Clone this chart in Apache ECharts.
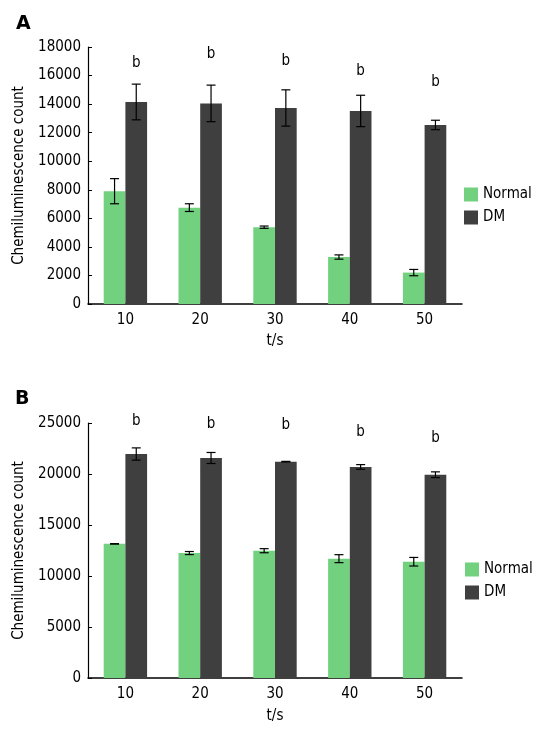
<!DOCTYPE html>
<html>
<head>
<meta charset="utf-8">
<script src="https://cdn.jsdelivr.net/npm/echarts@6/dist/echarts.min.js"></script>
<style>
html,body{margin:0;padding:0;background:#fff;}
#chart{width:541px;height:735px;}
</style>
</head>
<body>
<div id="chart"></div>
<script>
// ---- data ----
const categories = ['10', '20', '30', '40', '50'];
const seriesNames = ['Normal', 'DM'];

// Panel A
const aNormal = [7900, 6750, 5380, 3290, 2200];
const aNormalErr = [880, 270, 80, 150, 220];
const aDM = [14150, 14050, 13730, 13520, 12540];
const aDMErr = [1250, 1280, 1270, 1100, 330];
const aSigY = [16880, 17500, 17020, 16340, 15530];
const aYTicks = [0, 2000, 4000, 6000, 8000, 10000, 12000, 14000, 16000, 18000];

// Panel B
const bNormal = [13150, 12250, 12480, 11700, 11400];
const bNormalErr = [20, 150, 200, 390, 420];
const bDM = [21960, 21570, 21210, 20690, 19930];
const bDMErr = [600, 540, 30, 230, 280];
const bSigY = [25150, 24930, 24830, 24120, 23530];
const bYTicks = [0, 5000, 10000, 15000, 20000, 25000];

const sigText = 'b';

// ---- styles ----
const FONT = '"DejaVu Sans Condensed", "DejaVu Sans", sans-serif';
const GREEN = '#71d17f';
const DARK = '#3f3f3f';
const BAR_FRAC = 0.29;

const chart = echarts.init(document.getElementById('chart'), null, {renderer: 'canvas'});

function errSeries(name, vals, errs, gridIdx, sign) {
  return {
    type: 'custom',
    name: name + '_err',
    xAxisIndex: gridIdx, yAxisIndex: gridIdx,
    silent: true, z: 10,
    data: vals.map((v, i) => [i, v, errs[i]]),
    renderItem: function (params, api) {
      const i = api.value(0), v = api.value(1), e = api.value(2);
      const band = api.size([1, 0])[0];
      const cx = api.coord([i, v])[0] + sign * band * BAR_FRAC / 2;
      const top = api.coord([i, v + e])[1];
      const bot = api.coord([i, v - e])[1];
      const hw = 4.5;
      const st = {stroke: '#000', lineWidth: 1.2};
      return {
        type: 'group',
        children: [
          {type: 'line', shape: {x1: cx, y1: top, x2: cx, y2: bot}, style: st},
          {type: 'line', shape: {x1: cx - hw, y1: top, x2: cx + hw, y2: top}, style: st},
          {type: 'line', shape: {x1: cx - hw, y1: bot, x2: cx + hw, y2: bot}, style: st}
        ]
      };
    }
  };
}

function sigSeries(ys, gridIdx) {
  return {
    type: 'custom',
    name: 'sig' + gridIdx,
    xAxisIndex: gridIdx, yAxisIndex: gridIdx,
    silent: true, z: 10,
    data: ys.map((v, i) => [i, v]),
    renderItem: function (params, api) {
      const i = api.value(0), v = api.value(1);
      const band = api.size([1, 0])[0];
      const p = api.coord([i, v]);
      return {
        type: 'text',
        style: {
          x: p[0] + band * BAR_FRAC / 2, y: p[1],
          text: sigText, font: '15px ' + FONT, fill: '#000',
          align: 'center', verticalAlign: 'middle'
        }
      };
    }
  };
}

function barSeries(name, vals, gridIdx, color) {
  return {
    type: 'bar', name: name,
    xAxisIndex: gridIdx, yAxisIndex: gridIdx,
    data: vals, barWidth: (BAR_FRAC * 100) + '%', barGap: '0%',
    itemStyle: {color: color},
    emphasis: {disabled: true}
  };
}

function xAxisCfg(gridIdx, gap) {
  return {
    type: 'category', gridIndex: gridIdx, data: categories,
    name: 't/s', nameLocation: 'middle', nameGap: gap,
    nameTextStyle: {fontFamily: FONT, fontSize: 15, color: '#000', verticalAlign: 'top'},
    axisLine: {lineStyle: {color: '#000', width: 1.5}},
    axisTick: {show: false},
    axisLabel: {fontFamily: FONT, fontSize: 15, color: '#000', margin: 9}
  };
}

function yAxisCfg(gridIdx, ticks) {
  return {
    type: 'value', gridIndex: gridIdx,
    min: ticks[0], max: ticks[ticks.length - 1],
    interval: ticks[1] - ticks[0],
    name: 'Chemiluminescence count', nameLocation: 'middle', nameGap: 61,
    nameTextStyle: {fontFamily: FONT, fontSize: 15, color: '#000'},
    axisLine: {show: true, lineStyle: {color: '#000', width: 1.2}},
    axisTick: {show: true, inside: true, length: 4, lineStyle: {color: '#000'}},
    splitLine: {show: false},
    axisLabel: {fontFamily: FONT, fontSize: 15, color: '#000', margin: 7,
      formatter: v => String(v)}
  };
}

function legendCfg(left, top) {
  return {
    data: seriesNames.map(n => ({name: n, icon: 'rect'})),
    orient: 'vertical', left: left, top: top,
    itemWidth: 14, itemHeight: 14, itemGap: 8,
    textStyle: {fontFamily: FONT, fontSize: 15, color: '#000'},
    selectedMode: false
  };
}

const option = {
  animation: false,
  backgroundColor: '#fff',
  title: [
    {text: 'A', left: 11, top: 10, textStyle: {fontFamily: '"DejaVu Sans", sans-serif', fontSize: 19, fontWeight: 'bold', color: '#000'}},
    {text: 'B', left: 10, top: 385, textStyle: {fontFamily: '"DejaVu Sans", sans-serif', fontSize: 19, fontWeight: 'bold', color: '#000'}}
  ],
  legend: [legendCfg(459, 182), legendCfg(460, 557)],
  grid: [
    {left: 88, top: 47, width: 374, height: 257},
    {left: 88, top: 423, width: 374, height: 255}
  ],
  xAxis: [xAxisCfg(0, 30), xAxisCfg(1, 31)],
  yAxis: [yAxisCfg(0, aYTicks), yAxisCfg(1, bYTicks)],
  series: [
    barSeries('Normal', aNormal, 0, GREEN),
    barSeries('DM', aDM, 0, DARK),
    barSeries('Normal', bNormal, 1, GREEN),
    barSeries('DM', bDM, 1, DARK),
    errSeries('Normal', aNormal, aNormalErr, 0, -1),
    errSeries('DM', aDM, aDMErr, 0, 1),
    errSeries('Normal', bNormal, bNormalErr, 1, -1),
    errSeries('DM', bDM, bDMErr, 1, 1),
    sigSeries(aSigY, 0),
    sigSeries(bSigY, 1)
  ]
};
chart.setOption(option);
</script>
</body>
</html>
